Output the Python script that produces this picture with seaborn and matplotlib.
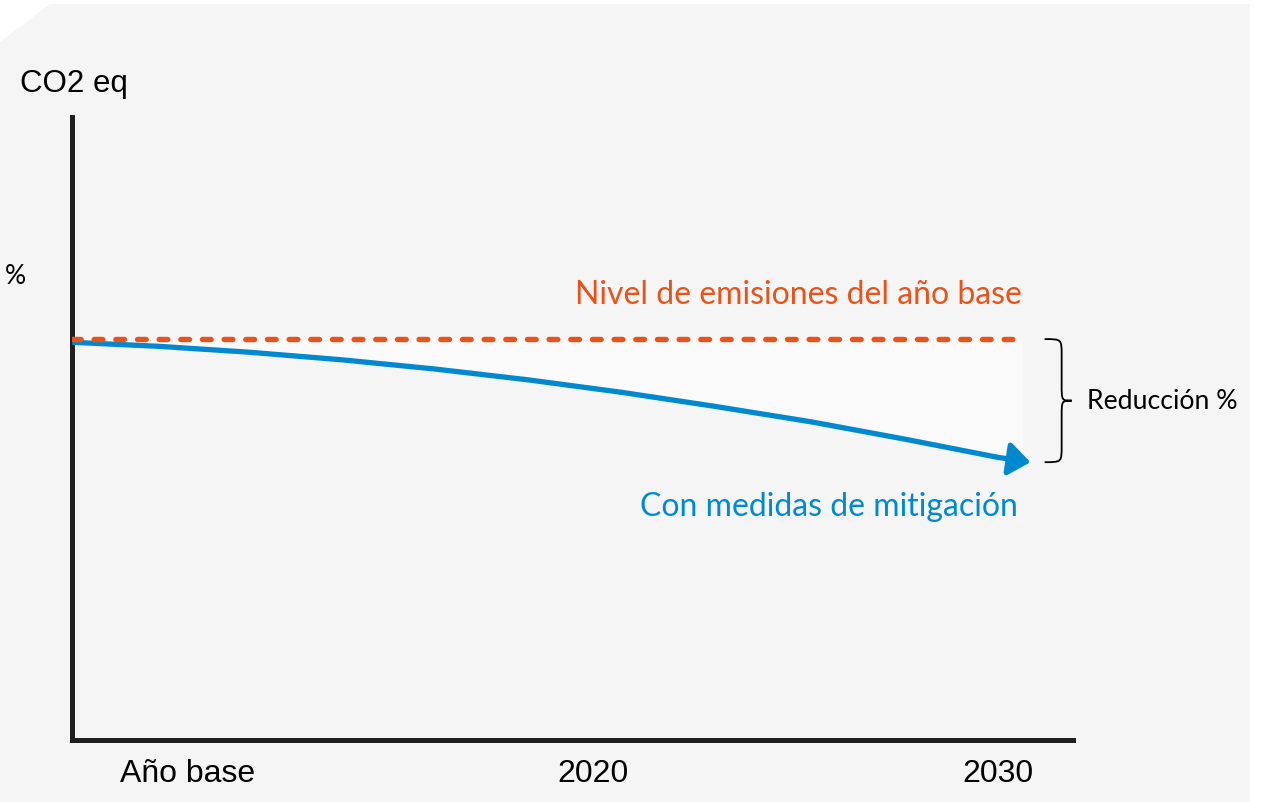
import matplotlib
matplotlib.use("Agg")
import matplotlib.pyplot as plt
import seaborn as sns
import numpy as np
import pandas as pd
from matplotlib.patches import Polygon, PathPatch
from matplotlib.path import Path

# data (years, emissions as % of base year)
base_years = [2007.16, 2030.6]
base_level = [100, 100]
mit_years = [2007.17, 2009.3, 2011.5, 2013.8, 2016.1, 2018.4, 2020.7,
             2023.0, 2025.4, 2027.7, 2030.0]
mit_values = [99.2, 98.2, 96.75, 94.85, 92.55, 89.85, 86.75, 83.25, 79.35, 75.05, 70.5]
arrow_tip = (2030.8, 69.3)
tick_years = [2010, 2020, 2030]
tick_labels = ["Año base", "2020", "2030"]

ORANGE = "#e9531a"
BLUE = "#0089cf"
BG = "#f5f5f5"

sns.set_theme(style="white")
plt.rcParams["font.family"] = ["Liberation Sans", "DejaVu Sans"]
plt.rcParams["text.color"] = "black"
LATO = ["Lato", "DejaVu Sans"]

W, H = 1261, 803
fig = plt.figure(figsize=(W / 100, H / 100), dpi=100, facecolor="white")

# gray panel with the clipped top-left corner
panel = Polygon(
    [(0, (H - 43) / H), (50 / W, (H - 5) / H), (1250 / W, (H - 5) / H), (1250 / W, 0), (0, 0)],
    closed=True, transform=fig.transFigure, facecolor=BG, edgecolor="none", zorder=-10,
)
fig.patches.append(panel)

ax = fig.add_axes([72 / W, (H - 741) / H, (1073 - 72) / W, (741 - 118) / H])
ax.set_facecolor("none")

df_mit = pd.DataFrame({"year": mit_years, "value": mit_values})
df_base = pd.DataFrame({"year": base_years, "value": base_level})

# faint lighter band between the two scenarios
ax.fill_between(mit_years + [base_years[-1]], mit_values + [arrow_tip[1]], 100,
                color="#fafafa", lw=0, zorder=1)

sns.lineplot(data=df_mit, x="year", y="value", color=BLUE, lw=3.8, ax=ax, zorder=3)
ax.lines[-1].set_solid_capstyle("butt")
ax.annotate(
    "", xy=arrow_tip, xytext=(mit_years[-1], mit_values[-1]),
    arrowprops=dict(arrowstyle="-|>,head_length=0.65,head_width=0.5", color=BLUE,
                    lw=3.8, mutation_scale=20, shrinkA=0, shrinkB=0),
    zorder=3, annotation_clip=False,
)

sns.lineplot(data=df_base, x="year", y="value", color=ORANGE, lw=3.9, ax=ax, zorder=4)
ln = ax.lines[-1]
ln.set_dashes((1.6, 2.4))
ln.set_dash_capstyle("round")

ax.set_xlim(2007.16, 2031.85)
ax.set_ylim(0, 155.4)

# curly brace for the reduction
top, bot = 100, arrow_tip[1]
mid = (top + bot) / 2
x0, xs, xt = 2031.15, 2031.57, 2031.82
d = 4.0
verts = [
    (x0, top), (xs, top), (xs, top), (xs, top - d),
    (xs, mid + d),
    (xs, mid), (xs, mid), (xt, mid),
    (xs, mid), (xs, mid), (xs, mid - d),
    (xs, bot + d),
    (xs, bot), (xs, bot), (x0, bot),
]
codes = [Path.MOVETO, Path.CURVE4, Path.CURVE4, Path.CURVE4,
         Path.LINETO,
         Path.CURVE4, Path.CURVE4, Path.CURVE4,
         Path.CURVE4, Path.CURVE4, Path.CURVE4,
         Path.LINETO,
         Path.CURVE4, Path.CURVE4, Path.CURVE4]
ax.add_patch(PathPatch(Path(verts, codes), fill=False, edgecolor="black", lw=1.3, clip_on=False))

ax.text(2030.6, 109, "Nivel de emisiones del año base", color=ORANGE, fontsize=23,
        family=LATO, ha="right", va="baseline")
ax.text(2030.5, 56.1, "Con medidas de mitigación", color=BLUE, fontsize=23,
        family=LATO, ha="right", va="baseline")
ax.text(2032.2, mid, "Reducción %", color="black", fontsize=19.2, family=LATO,
        ha="left", va="center", clip_on=False)

fig.text(20 / W, 1 - 92 / H, "CO2 eq", fontsize=22.5, ha="left", va="baseline")
fig.text(5 / W, 1 - 277 / H, "%", fontsize=19, family=LATO, ha="left", va="center")

ax.set_xticks(tick_years)
ax.set_xticklabels(tick_labels)
ax.set_yticks([])
ax.tick_params(axis="x", length=0, pad=13, labelsize=23, labelcolor="black")
ax.set_xlabel("")
ax.set_ylabel("")

sns.despine(ax=ax)
for side in ["left", "bottom"]:
    ax.spines[side].set_linewidth(3.6)
    ax.spines[side].set_color("#1f1f1f")
    ax.spines[side].set_capstyle("projecting")

fig.savefig("out.png", dpi=100, facecolor="white")
